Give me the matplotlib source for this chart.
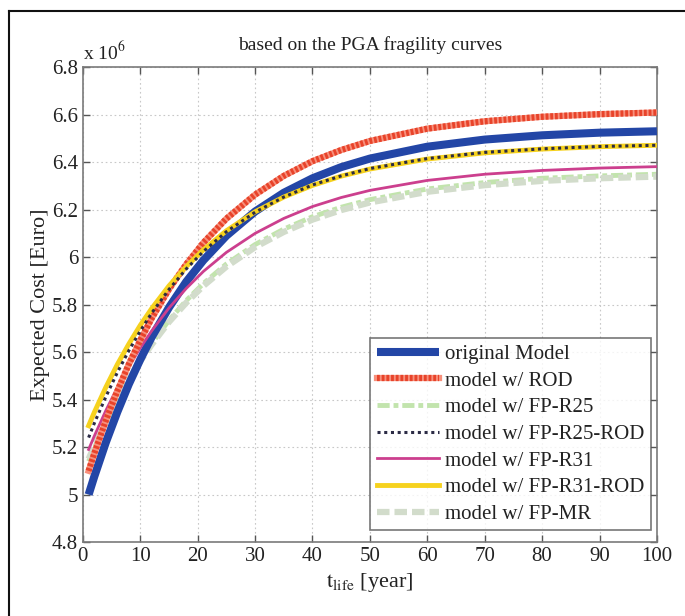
import matplotlib
matplotlib.use("Agg")
import matplotlib.pyplot as plt
from matplotlib.lines import Line2D
from matplotlib.legend_handler import HandlerTuple

plt.rcParams['font.family'] = ['Liberation Serif', 'DejaVu Serif']
plt.rcParams['mathtext.fontset'] = 'stix'

t_life = [1, 2, 4, 6, 8, 10, 12, 15, 18, 21, 25, 30, 35, 40, 45, 50, 60, 70, 80, 90, 100]

original_model = [5.000, 5.077, 5.220, 5.348, 5.465, 5.569, 5.664, 5.788, 5.896, 5.987, 6.090,
                  6.192, 6.271, 6.332, 6.379, 6.415, 6.465, 6.495, 6.513, 6.524, 6.530]
model_rod = [5.100, 5.174, 5.312, 5.436, 5.549, 5.650, 5.743, 5.865, 5.970, 6.061, 6.162,
             6.263, 6.342, 6.404, 6.451, 6.489, 6.541, 6.572, 6.591, 6.602, 6.609]
model_fp_r25 = [5.140, 5.197, 5.302, 5.398, 5.486, 5.565, 5.637, 5.734, 5.817, 5.889, 5.971,
                6.053, 6.118, 6.170, 6.210, 6.242, 6.287, 6.314, 6.332, 6.342, 6.349]
model_fp_r25_rod = [5.240, 5.301, 5.412, 5.514, 5.606, 5.689, 5.765, 5.864, 5.950, 6.024, 6.107,
                    6.189, 6.253, 6.304, 6.342, 6.373, 6.415, 6.441, 6.456, 6.466, 6.471]
model_fp_r31 = [5.190, 5.247, 5.354, 5.451, 5.538, 5.618, 5.690, 5.786, 5.868, 5.940, 6.020,
                6.100, 6.163, 6.213, 6.251, 6.281, 6.323, 6.349, 6.365, 6.375, 6.381]
model_fp_r31_rod = [5.290, 5.347, 5.452, 5.548, 5.634, 5.713, 5.784, 5.879, 5.960, 6.031, 6.111,
                    6.191, 6.253, 6.302, 6.341, 6.371, 6.413, 6.439, 6.455, 6.465, 6.471]
model_fp_mr = [5.150, 5.205, 5.307, 5.400, 5.485, 5.562, 5.632, 5.727, 5.808, 5.879, 5.960,
               6.042, 6.106, 6.158, 6.198, 6.230, 6.275, 6.303, 6.321, 6.332, 6.339]

labels = ['original Model', 'model w/ ROD', 'model w/ FP-R25', 'model w/ FP-R25-ROD',
          'model w/ FP-R31', 'model w/ FP-R31-ROD', 'model w/ FP-MR']

x_ticks = list(range(0, 101, 10))
y_ticks = [4.8, 5.0, 5.2, 5.4, 5.6, 5.8, 6.0, 6.2, 6.4, 6.6, 6.8]
y_ticklabels = ['4.8', '5', '5.2', '5.4', '5.6', '5.8', '6', '6.2', '6.4', '6.6', '6.8']

fig = plt.figure(figsize=(6.85, 6.16), dpi=100)
ax = fig.add_axes([0.121, 0.12, 0.838, 0.771])

h_orig, = ax.plot(t_life, original_model, color='#2346a6', lw=5.8, zorder=3,
                  solid_capstyle='butt')
h_rod_u, = ax.plot(t_life, model_rod, color='#f7907c', lw=4.5, zorder=4)
h_rod, = ax.plot(t_life, model_rod, color='#e8432a', lw=4.5, ls=(0, (0.45, 0.3)), zorder=4.1)
h_r25, = ax.plot(t_life, model_fp_r25, color='#c2e4ad', lw=3.5, ls=(0, (2.5, 0.8, 1, 0.8)),
                 zorder=2)
h_r31rod, = ax.plot(t_life, model_fp_r31_rod, color='#f6d21e', lw=3.5, zorder=5)
h_r25rod, = ax.plot(t_life, model_fp_r25_rod, color='#2b2b45', lw=2.2, ls=(0, (1, 1.2)),
                    zorder=6)
h_mr, = ax.plot(t_life, model_fp_mr, color='#d2dccb', lw=4.5, ls=(0, (2.0, 0.8)), zorder=2.5)
h_r31, = ax.plot(t_life, model_fp_r31, color='#cc3f8e', lw=2.0, zorder=3.5)

ax.set_xlim(0, 100)
ax.set_ylim(4.8, 6.8)
ax.set_xticks(x_ticks)
ax.set_yticks(y_ticks)
ax.set_yticklabels(y_ticklabels)
ax.tick_params(direction='in', top=True, right=True, labelsize=15, colors='#555555',
               length=5, width=1.0)
for lab in ax.get_xticklabels() + ax.get_yticklabels():
    lab.set_color('#222222')
for s in ax.spines.values():
    s.set_color('#7a7a7a')
    s.set_linewidth(1.2)
ax.grid(True, ls=(0, (1.5, 2.5)), color='#c8c8c8', lw=0.8)
ax.set_axisbelow(True)

ax.set_title('based on the PGA fragility curves', fontsize=14, pad=12, color='#222222')
ax.set_ylabel('Expected Cost [Euro]', fontsize=16, color='#222222', labelpad=1)
ax.set_xlabel(r'$\mathrm{t}_{\mathrm{life}}$ [year]', fontsize=16, color='#222222', labelpad=4)
ax.text(0.0, 1.008, r'x 10$^{6}$', transform=ax.transAxes, fontsize=14, color='#222222',
        ha='left', va='bottom')

handles = [h_orig, (h_rod_u, h_rod), h_r25, h_r25rod, h_r31, h_r31rod, h_mr]
leg = ax.legend(handles, labels, loc='lower right', bbox_to_anchor=(0.9895, 0.025),
                borderaxespad=0.0, fontsize=15, frameon=True, fancybox=False,
                edgecolor='#555555', handlelength=3.0, handletextpad=0.3, borderpad=0.3,
                labelspacing=0.34,
                handler_map={tuple: HandlerTuple(ndivide=1, pad=0)})
leg.get_frame().set_linewidth(1.2)
for txt in leg.get_texts():
    txt.set_color('#222222')

# figure frame lines (top and left)
fig.add_artist(Line2D([9 / 685, 1.0], [1 - 11 / 616, 1 - 11 / 616], color='#111111', lw=1.5,
                      transform=fig.transFigure))
fig.add_artist(Line2D([9 / 685, 9 / 685], [0.0, 1 - 11 / 616], color='#111111', lw=1.5,
                      transform=fig.transFigure))

fig.savefig('out.png', dpi=100)
